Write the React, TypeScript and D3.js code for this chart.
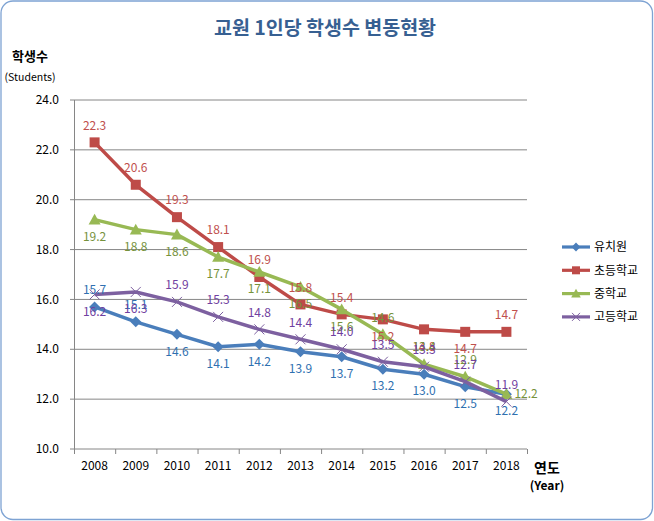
import React from 'react';
import * as d3 from 'd3';

const years = ['2008', '2009', '2010', '2011', '2012', '2013', '2014', '2015', '2016', '2017', '2018'];
const kindergarten = [15.7, 15.1, 14.6, 14.1, 14.2, 13.9, 13.7, 13.2, 13.0, 12.5, 12.2];
const elementary = [22.3, 20.6, 19.3, 18.1, 16.9, 15.8, 15.4, 15.2, 14.8, 14.7, 14.7];
const middle = [19.2, 18.8, 18.6, 17.7, 17.1, 16.5, 15.6, 14.6, 13.4, 12.9, 12.2];
const high = [16.2, 16.3, 15.9, 15.3, 14.8, 14.4, 14.0, 13.5, 13.3, 12.7, 11.9];
const seriesNames = ['유치원', '초등학교', '중학교', '고등학교'];
const yTicks = [10, 12, 14, 16, 18, 20, 22, 24];

// label placement per point (layout only)
const posBlue = ['a', 'a', 'b', 'b', 'b', 'b', 'b', 'b', 'b', 'b', 'b'];
const posRed = ['a', 'a', 'a', 'a', 'a', 'a', 'a', 'b', 'b', 'b', 'a'];
const posGreen = ['b', 'b', 'b', 'b', 'b', 'b', 'b', 'a', 'a', 'a', 'r'];
const posPurple = ['b', 'b', 'a', 'a', 'a', 'a', 'a', 'a', 'a', 'a', 'a'];

const W = 654, H = 521;
const FONT = '"Noto Sans CJK KR", "Noto Sans", sans-serif';

const x = d3.scaleBand<string>().domain(years).range([74, 527]);
const y = d3.scaleLinear().domain([10, 24]).range([449, 100]);

type Series = { name: string; values: number[]; line: string; label: string; marker: string; pos: string[] };
const series: Series[] = [
  { name: seriesNames[0], values: kindergarten, line: '#4A7EBB', label: '#2F70B0', marker: 'diamond', pos: posBlue },
  { name: seriesNames[1], values: elementary, line: '#BE4B48', label: '#C0504D', marker: 'square', pos: posRed },
  { name: seriesNames[2], values: middle, line: '#98B954', label: '#76923C', marker: 'triangle', pos: posGreen },
  { name: seriesNames[3], values: high, line: '#7D60A0', label: '#7040A0', marker: 'x', pos: posPurple },
];

function Marker({ kind, cx, cy, color, s = 1 }: { kind: string; cx: number; cy: number; color: string; s?: number }) {
  if (kind === 'diamond') {
    const r = 5.5 * s;
    return <path d={`M${cx},${cy - r}L${cx + r},${cy}L${cx},${cy + r}L${cx - r},${cy}Z`} fill={color} />;
  }
  if (kind === 'square') {
    const r = 5 * s;
    return <rect x={cx - r} y={cy - r} width={2 * r} height={2 * r} fill={color} />;
  }
  if (kind === 'triangle') {
    const r = 6 * s;
    return <path d={`M${cx},${cy - r}L${cx + r},${cy + r * 0.8}L${cx - r},${cy + r * 0.8}Z`} fill={color} />;
  }
  const r = 5 * s;
  return (
    <path d={`M${cx - r},${cy - r}L${cx + r},${cy + r}M${cx - r},${cy + r}L${cx + r},${cy - r}`} stroke={color} strokeWidth={1} fill="none" />
  );
}

export default function App() {
  const cx = (yr: string) => (x(yr) as number) + x.bandwidth() / 2;
  const line = d3.line<number>().x((_, i) => cx(years[i])).y((v) => y(v));
  return (
    <svg width={W} height={H} style={{ position: 'absolute', left: 0, top: 0, background: '#fff' }} fontFamily={FONT}>
      <rect x={1} y={1} width={W - 2.5} height={H - 2.5} rx={12} fill="#fff" stroke="#7EA3D3" strokeWidth={1.3} />
      <text x={325} y={35} textAnchor="middle" fontSize={19.5} fontWeight="bold" fill="#376092">교원 1인당 학생수 변동현황</text>
      <text x={30} y={61} textAnchor="middle" fontSize={13} fontWeight="bold" fill="#000">학생수</text>
      <text x={30} y={81} textAnchor="middle" fontSize={10.5} fill="#000">(Students)</text>

      {/* grid */}
      {yTicks.map((t) => (
        <g key={t}>
          <line x1={70} x2={527} y1={y(t)} y2={y(t)} stroke="#868686" strokeWidth={1} />
          <text x={59} y={y(t)} dy="0.35em" textAnchor="end" fontSize={12} fill="#000">{t.toFixed(1)}</text>
        </g>
      ))}
      <line x1={74.5} x2={74.5} y1={100} y2={449} stroke="#868686" strokeWidth={1} />
      {years.concat(['end']).map((yr, i) => {
        const xx = i < years.length ? (x(yr) as number) : 527;
        return <line key={'t' + i} x1={xx + 0.5} x2={xx + 0.5} y1={449} y2={454} stroke="#868686" strokeWidth={1} />;
      })}
      {years.map((yr) => (
        <text key={yr} x={cx(yr)} y={466} dy="0.35em" textAnchor="middle" fontSize={12} fill="#000">{yr}</text>
      ))}
      <text x={547} y={468} dy="0.35em" textAnchor="middle" fontSize={14} fontWeight="bold" fill="#000">연도</text>
      <text x={547} y={486} dy="0.35em" textAnchor="middle" fontSize={12} fontWeight="bold" fill="#000">(Year)</text>

      {/* series */}
      {series.map((s) => (
        <g key={s.name}>
          <path d={line(s.values) || ''} fill="none" stroke={s.line} strokeWidth={3.5} strokeLinejoin="round" />
          {s.values.map((v, i) => (
            <Marker key={i} kind={s.marker} cx={cx(years[i])} cy={y(v)} color={s.line} />
          ))}
        </g>
      ))}
      {series.map((s) => (
        <g key={'l' + s.name}>
          {s.values.map((v, i) => {
            const p = s.pos[i];
            const px = cx(years[i]);
            const py = y(v);
            if (p === 'r') {
              return <text key={i} x={px + 8} y={py} dy="0.35em" textAnchor="start" fontSize={12} fill={s.label}>{v.toFixed(1)}</text>;
            }
            return (
              <text key={i} x={px} y={py + (p === 'a' ? -17 : 17)} dy="0.35em" textAnchor="middle" fontSize={12} fill={s.label}>{v.toFixed(1)}</text>
            );
          })}
        </g>
      ))}

      {/* legend */}
      {series.map((s, i) => {
        const ly = 247 + i * 23.3;
        return (
          <g key={'lg' + s.name}>
            <line x1={562} x2={590} y1={ly} y2={ly} stroke={s.line} strokeWidth={3.2} />
            <Marker kind={s.marker} cx={576} cy={ly} color={s.line} s={0.8} />
            <text x={594} y={ly} dy="0.35em" fontSize={12} fill="#000">{s.name}</text>
          </g>
        );
      })}
    </svg>
  );
}
